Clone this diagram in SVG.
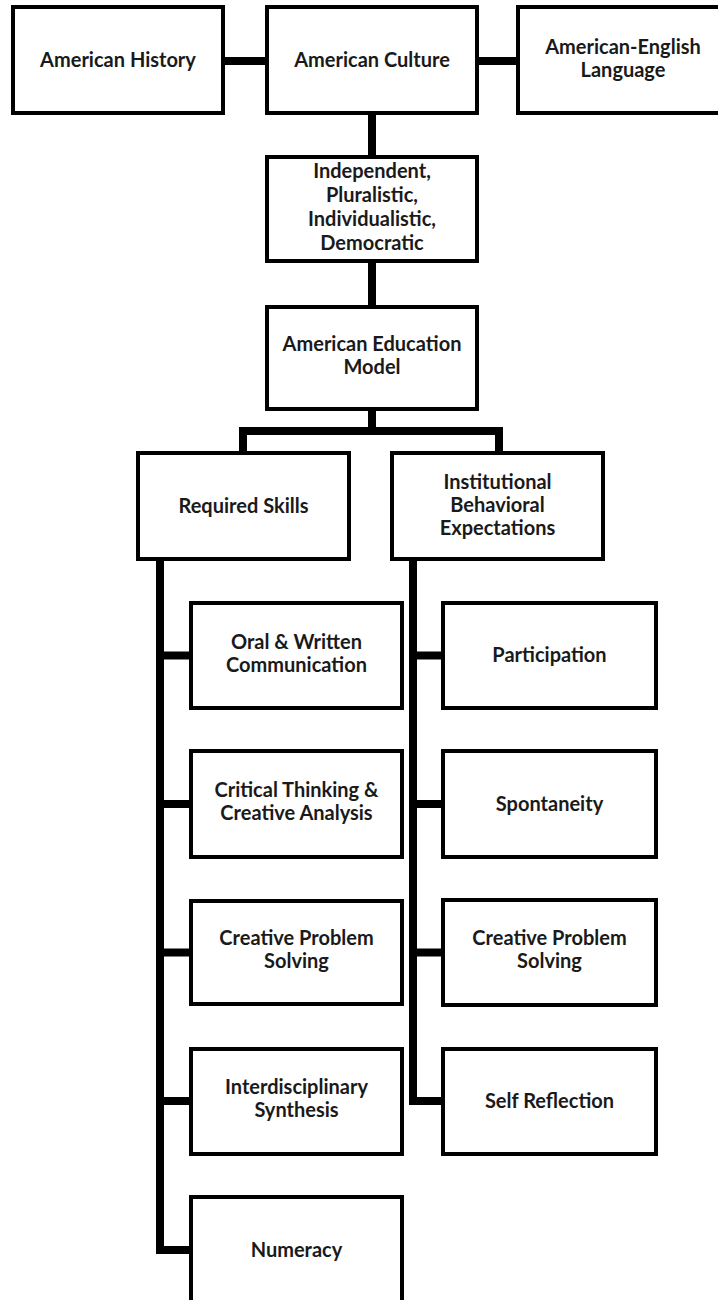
<svg xmlns="http://www.w3.org/2000/svg" width="718" height="1300" viewBox="0 0 718 1300">
<style>
.box{fill:#fff;stroke:#000;stroke-width:4;stroke-linejoin:miter}
.con{fill:none;stroke:#000;stroke-width:8;stroke-linejoin:miter;stroke-linecap:butt}
text{font-family:Lato,"Open Sans","Liberation Sans",sans-serif;font-weight:bold;font-size:20px;fill:#1a1a1a;text-anchor:middle}
</style>
<rect width="718" height="1300" fill="#fff"/>
<g id="connectors">
<path class="con" d="M223,61 H267 M477,61 H518"/>
<path class="con" d="M372,113 V157"/>
<path class="con" d="M372,261 V307"/>
<path class="con" d="M372,409 V431 M243,453 V431 H499 V453"/>
<path class="con" d="M160,559 V1250 H191 M160,655.5 H191 M160,804 H191 M160,952.5 H191 M160,1101 H191"/>
<path class="con" d="M413,559 V1101 H443 M413,655.5 H443 M413,804 H443 M413,952.5 H443"/>
</g>
<g id="n-history"><rect class="box" x="13" y="7" width="210" height="106"/><text x="118" y="67">American History</text></g>
<g id="n-culture"><rect class="box" x="267" y="7" width="210" height="106"/><text x="372" y="67">American Culture</text></g>
<g id="n-language"><rect class="box" x="518" y="7" width="212" height="106"/><text x="623" y="54">American-English</text><text x="623" y="77">Language</text></g>
<g id="n-values"><rect class="box" x="267" y="157" width="210" height="104"/><text x="372" y="178">Independent,</text><text x="372" y="202">Pluralistic,</text><text x="372" y="226">Individualistic,</text><text x="372" y="250">Democratic</text></g>
<g id="n-model"><rect class="box" x="267" y="307" width="210" height="102"/><text x="372" y="351">American Education</text><text x="372" y="374">Model</text></g>
<g id="n-skills"><rect class="box" x="138" y="453" width="211" height="106"/><text x="243.5" y="513">Required Skills</text></g>
<g id="n-expect"><rect class="box" x="392" y="453" width="211" height="106"/><text x="497.5" y="489">Institutional</text><text x="497.5" y="512">Behavioral</text><text x="497.5" y="535">Expectations</text></g>
<g id="n-oral"><rect class="box" x="191" y="603" width="211" height="105"/><text x="296.5" y="649">Oral &amp; Written</text><text x="296.5" y="672">Communication</text></g>
<g id="n-critical"><rect class="box" x="191" y="751" width="211" height="106"/><text x="296.5" y="797">Critical Thinking &amp;</text><text x="296.5" y="820">Creative Analysis</text></g>
<g id="n-cps-left"><rect class="box" x="191" y="901" width="211" height="103"/><text x="296.5" y="945">Creative Problem</text><text x="296.5" y="968">Solving</text></g>
<g id="n-interdisc"><rect class="box" x="191" y="1049" width="211" height="105"/><text x="296.5" y="1094">Interdisciplinary</text><text x="296.5" y="1117">Synthesis</text></g>
<g id="n-numeracy"><rect class="box" x="191" y="1197" width="211" height="108"/><text x="296.5" y="1257">Numeracy</text></g>
<g id="n-participation"><rect class="box" x="443" y="603" width="213" height="105"/><text x="549.5" y="662">Participation</text></g>
<g id="n-spontaneity"><rect class="box" x="443" y="751" width="213" height="106"/><text x="549.5" y="811">Spontaneity</text></g>
<g id="n-cps-right"><rect class="box" x="443" y="900" width="213" height="105"/><text x="549.5" y="945">Creative Problem</text><text x="549.5" y="968">Solving</text></g>
<g id="n-reflection"><rect class="box" x="443" y="1049" width="213" height="105"/><text x="549.5" y="1108">Self Reflection</text></g>
</svg>
